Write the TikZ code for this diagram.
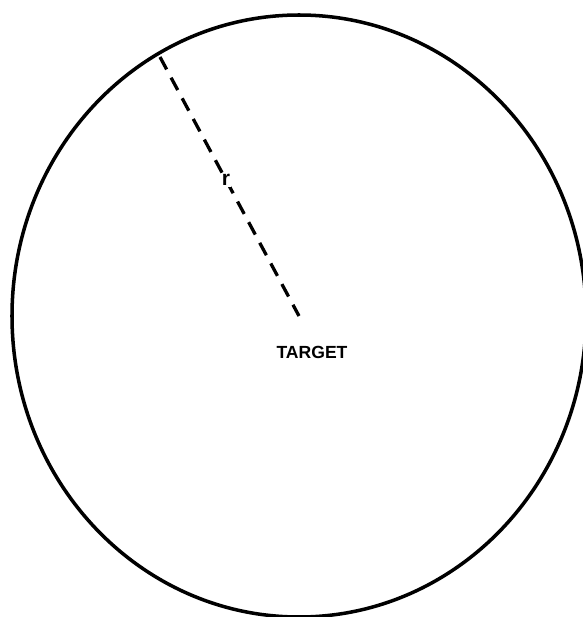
\documentclass[tikz,border=0pt]{standalone}
\usepackage{fontspec}
\setsansfont{Liberation Sans}
\usepackage{tikz}

\tikzset{
  rangeline/.style={line width=2.8pt, dash pattern=on 12pt off 8pt},
  rimline/.style={line width=3pt},
  lbl/.style={font=\sffamily\bfseries\fontsize{15}{17}\selectfont, inner sep=1pt}
}

\begin{document}
\begin{tikzpicture}[x=0.03cm, y=-0.03cm]
    \useasboundingbox (0,0) rectangle (582,617);
    % range circle
    \coordinate (centre) at (299,316);
    \coordinate (rim) at (160,57);
    \draw[rimline] (centre) ellipse [x radius=287, y radius=301];
    % radius
    \draw[rangeline] (rim) -- (centre);
    \node[lbl, fill=white, font=\sffamily\bfseries\fontsize{18}{20}\selectfont] (rlabel) at (226,180) {r};
    \node[lbl] (target) at (312,352) {TARGET};
  \end{tikzpicture}
\end{document}
